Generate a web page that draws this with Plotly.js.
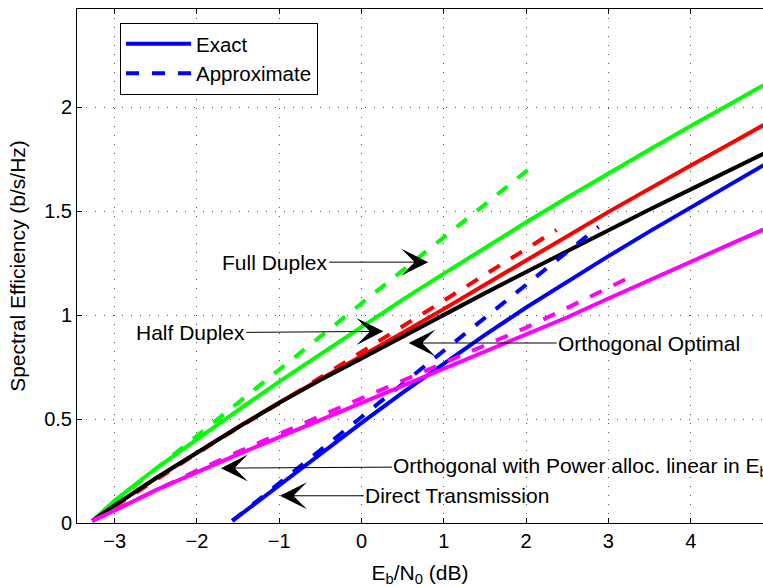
<!DOCTYPE html>
<html><head><meta charset="utf-8">
<script src="https://cdn.plot.ly/plotly-3.0.1.min.js"></script>
<style>html,body{margin:0;padding:0;background:#fff}#chart{width:763px;height:587px}</style>
</head><body><div id="chart"></div>
<script>
// Eb/N0 (dB) sample points for the relay curves
const xRelay = [-3.27, -3.0, -2.5, -2.0, -1.5, -1.0, -0.5, 0, 0.5, 1.0, 1.5, 2.0, 2.5, 3.0, 3.5, 4.0, 4.5, 4.9];
// Full duplex
const fdExact = [0.01, 0.108, 0.262, 0.405, 0.543, 0.68, 0.813, 0.945, 1.075, 1.2, 1.325, 1.447, 1.566, 1.683, 1.797, 1.91, 2.02, 2.11];
const fdApproxX = [-3.27, -3.0, -2.5, -2.0, -1.5, -1.0, -0.5, 0, 0.5, 1.0, 1.5, 2.0, 2.12];
const fdApprox = [0.01, 0.10, 0.26, 0.42, 0.58, 0.74, 0.90, 1.057, 1.215, 1.375, 1.533, 1.69, 1.73];
// Half duplex
const hdExact = [0.01, 0.085, 0.215, 0.34, 0.462, 0.58, 0.692, 0.80, 0.915, 1.03, 1.145, 1.262, 1.38, 1.497, 1.61, 1.72, 1.83, 1.918];
const hdApproxX = [-3.27, -3.0, -2.5, -2.0, -1.5, -1.0, -0.5, 0, 0.5, 1.0, 1.5, 2.0, 2.37];
const hdApprox = [0.01, 0.08, 0.205, 0.335, 0.458, 0.576, 0.70, 0.822, 0.945, 1.07, 1.195, 1.32, 1.41];
// Orthogonal optimal
const orthOpt = [0.01, 0.085, 0.215, 0.34, 0.46, 0.578, 0.688, 0.792, 0.898, 1.003, 1.106, 1.208, 1.309, 1.409, 1.508, 1.605, 1.702, 1.78];
// Orthogonal with power allocation linear in Eb/N0
const orthPA = [0.01, 0.06, 0.158, 0.245, 0.33, 0.413, 0.495, 0.577, 0.66, 0.743, 0.825, 0.905, 0.99, 1.08, 1.17, 1.26, 1.345, 1.415];
const orthPAApproxX = [-3.27, -3.0, -2.5, -2.0, -1.5, -1.0, -0.5, 0, 0.5, 1.0, 1.5, 2.0, 2.5, 3.0, 3.3];
const orthPAApprox = [0.01, 0.062, 0.16, 0.252, 0.342, 0.43, 0.515, 0.60, 0.685, 0.77, 0.855, 0.94, 1.035, 1.135, 1.19];
// Direct transmission
const dtX = [-1.57, -1.5, -1.0, -0.5, 0, 0.5, 1.0, 1.5, 2.0, 2.5, 3.0, 3.5, 4.0, 4.5, 4.9];
const dtExact = [0.01, 0.031, 0.184, 0.335, 0.482, 0.627, 0.768, 0.905, 1.037, 1.163, 1.284, 1.403, 1.518, 1.632, 1.725];
const dtApproxX = [-1.57, -1.0, -0.5, 0, 0.5, 1.0, 1.5, 2.0, 2.5, 2.88];
const dtApprox = [0.01, 0.19, 0.35, 0.51, 0.67, 0.83, 0.99, 1.148, 1.305, 1.425];

const legendNames = ['Exact', 'Approximate'];
const xTicks = [-3, -2, -1, 0, 1, 2, 3, 4];
const yTicks = [0, 0.5, 1, 1.5, 2];
const yTickText = ['0', '0.5', '1', '1.5', '2'];

const LW = 4;
const DASH = '13px,13px';
function tr(x, y, color, dashed) {
  return {x: x, y: y, type: 'scatter', mode: 'lines', showlegend: false, hoverinfo: 'skip',
    line: {color: color, width: LW, dash: dashed ? DASH : 'solid'}};
}
const traces = [
  tr(xRelay, fdExact, '#00ff00', false),
  tr(fdApproxX, fdApprox, '#00ff00', true),
  tr(xRelay, hdExact, '#ff0000', false),
  tr(hdApproxX, hdApprox, '#ff0000', true),
  tr(xRelay, orthOpt, '#000000', false),
  tr(dtX, dtExact, '#0000ff', false),
  tr(dtApproxX, dtApprox, '#0000ff', true),
  tr(xRelay, orthPA, '#ff00ff', false),
  tr(orthPAApproxX, orthPAApprox, '#ff00ff', true),
  {x: [null], y: [null], type: 'scatter', mode: 'lines', name: legendNames[0], showlegend: true,
   line: {color: '#0000ff', width: LW, dash: 'solid'}},
  {x: [null], y: [null], type: 'scatter', mode: 'lines', name: legendNames[1], showlegend: true,
   line: {color: '#0000ff', width: LW, dash: DASH}}
];

const FONT = 'Liberation Sans, Arial, Helvetica, sans-serif';
const annFont = {family: FONT, size: 21, color: '#000'};
function arrowAnn(text, x, y, ax, ay, xanchor) {
  return {text: text, x: x, y: y, xref: 'x', yref: 'y', ax: ax, ay: ay, axref: 'pixel', ayref: 'pixel',
    xanchor: xanchor, yanchor: 'middle', showarrow: true, arrowhead: 3, arrowsize: 4.5, arrowwidth: 1,
    arrowcolor: '#000', font: annFont, borderpad: 0};
}
const annotations = [
  arrowAnn('Full Duplex', 0.81, 1.255, -99, 0, 'right'),
  arrowAnn('Half Duplex', 0.266, 0.922, -137, 1, 'right'),
  arrowAnn('Orthogonal Optimal', 0.572, 0.866, 148, 0, 'left'),
  arrowAnn('Orthogonal with Power alloc. linear in E<sub>b</sub>/N<sub>0</sub>', -1.708, 0.264, 171, -1, 'left'),
  arrowAnn('Direct Transmission', -0.991, 0.131, 84, 0, 'left')
];

const layout = {
  width: 763, height: 587,
  margin: {l: 77, r: 0, t: 9, b: 64, pad: 0},
  paper_bgcolor: '#fff', plot_bgcolor: '#fff',
  font: {family: FONT, size: 20, color: '#000'},
  showlegend: true,
  legend: {x: 0.0627, y: 0.973, xanchor: 'left', yanchor: 'top', bgcolor: '#fff',
    bordercolor: '#000', borderwidth: 1, font: {family: FONT, size: 20.5, color: '#000'},
    itemwidth: 65, tracegroupgap: 0},
  xaxis: {range: [-3.457, 4.878], tickvals: xTicks, ticks: 'inside', ticklen: 5, tickcolor: '#000',
    showline: true, linecolor: '#000', linewidth: 1, mirror: 'ticks', zeroline: false,
    showgrid: true, gridcolor: '#555', gridwidth: 1, griddash: '1px,8px',
    tickfont: {size: 20}, title: {text: 'E<sub>b</sub>/N<sub>0</sub> (dB)', font: {size: 21}, standoff: 16}},
  yaxis: {range: [0, 2.473], tickvals: yTicks, ticktext: yTickText, ticks: 'inside', ticklen: 5, tickcolor: '#000',
    showline: true, linecolor: '#000', linewidth: 1, mirror: false, zeroline: false,
    showgrid: true, gridcolor: '#555', gridwidth: 1, griddash: '1px,8px',
    tickfont: {size: 20}, title: {text: 'Spectral Efficiency (b/s/Hz)', font: {size: 21}, standoff: 12}},
  annotations: annotations
};
Plotly.newPlot('chart', traces, layout, {displayModeBar: false, staticPlot: true});
</script></body></html>
